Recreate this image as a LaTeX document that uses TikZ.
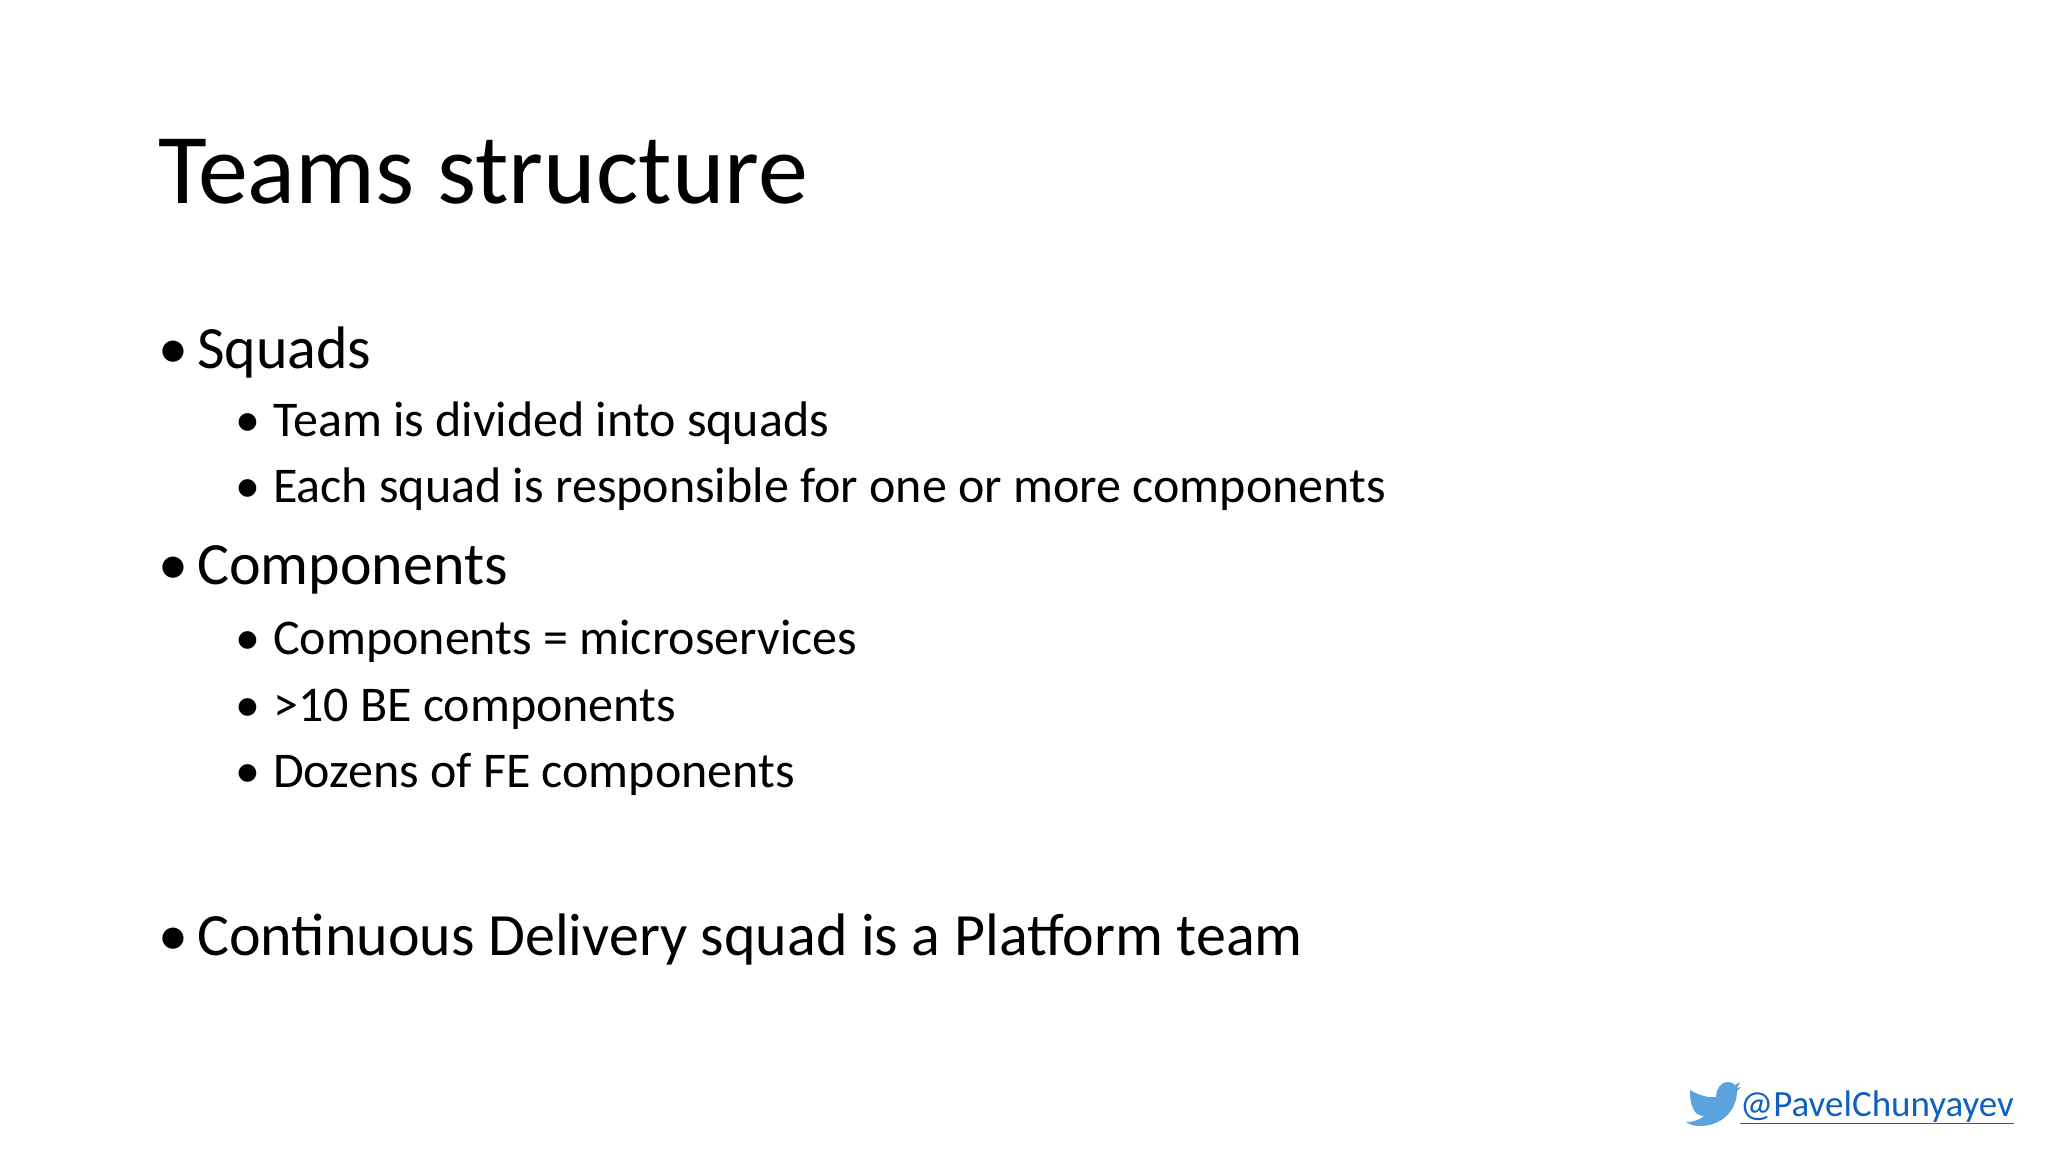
\documentclass[tikz,border=0pt]{standalone}
\usepackage{fontspec}
\setmainfont{Carlito}
\begin{document}
\begin{tikzpicture}[x=1pt,y=-1pt,
  title/.style={anchor=base west,inner sep=0pt,font=\fontsize{100}{110}\selectfont},
  lone/.style={anchor=base west,inner sep=0pt,font=\fontsize{60}{70}\selectfont},
  ltwo/.style={anchor=base west,inner sep=0pt,font=\fontsize{50}{60}\selectfont}]
\useasboundingbox[fill=white] (0,0) rectangle (2048,1152);
\node[title] (t) at (158,203) {Teams structure};
\foreach \n/\y/\txt in {a/368/Squads, b/584/Components, c/955/Continuous Delivery squad is a Platform team}{
  \node[lone] (b\n) at (158,\y) {•};
  \node[lone] (\n) at (197,\y) {\txt};
}
\foreach \n/\y/\txt in {a1/436/Team is divided into squads, a2/502/Each squad is responsible for one or more components, b1/654/Components = microservices, b2/721/>10 BE components, b3/787/Dozens of FE components}{
  \node[ltwo] (b\n) at (235,\y) {•};
  \node[ltwo] (\n) at (273,\y) {\txt};
}
\definecolor{tw}{HTML}{5AA3DE}
\definecolor{lk}{HTML}{1060C0}
\node[anchor=base west,inner sep=0pt,text=lk,font=\fontsize{37}{40}\selectfont] (h) at (1740,1116) {\underline{@PavelChunyayev}};
\fill[tw] (1690,1090) .. controls (1700,1096) and (1710,1098) .. (1716,1097)
  .. controls (1716,1090) and (1720,1082) .. (1728,1082)
  .. controls (1731,1082) and (1733,1083) .. (1735,1085)
  -- (1740,1082) -- (1737,1088) -- (1741,1087) -- (1737,1091)
  .. controls (1737,1110) and (1722,1126) .. (1700,1126)
  .. controls (1695,1126) and (1690,1125) .. (1686,1122)
  .. controls (1694,1122) and (1699,1120) .. (1704,1116)
  .. controls (1698,1116) and (1694,1112) .. (1693,1108)
  .. controls (1691,1104) and (1690,1100) .. (1690,1090) -- cycle;
\end{tikzpicture}
\end{document}
